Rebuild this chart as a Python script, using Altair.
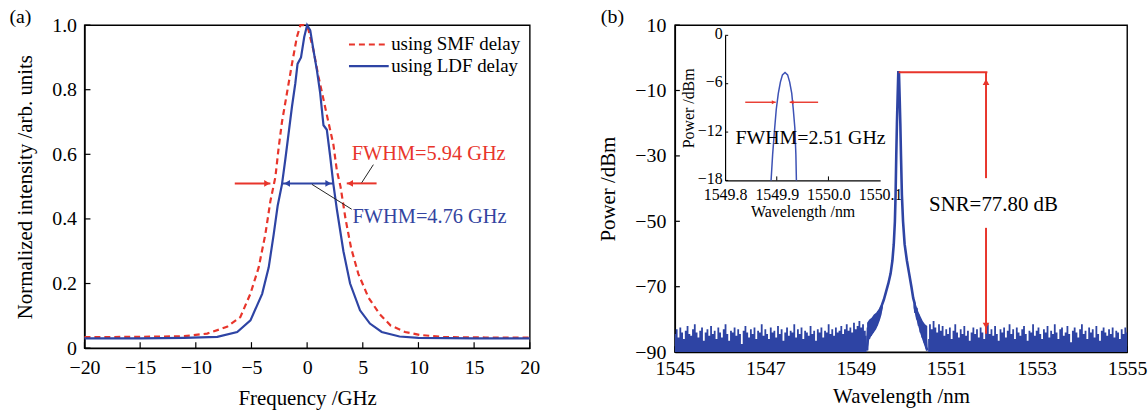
import altair as alt
import pandas as pd

RED = "#e8352b"
BLUE = "#2e44a4"
INSET_BLUE = "#3d52b5"
FONT = "'Liberation Serif', 'Times New Roman', Tinos, 'DejaVu Serif', serif"

# ---------------- Panel (a) data ----------------
smf_freq = [-20, -15, -11.05, -8.98, -7.2, -6.0, -5.1, -4.35, -3.75, -3.3, -2.85, -2.56, -2.26,
            -1.81, -1.36, -0.92, -0.6, -0.3, 0.0, 0.13, 0.57, 1.02, 1.47, 1.91, 2.36, 2.67, 3.0,
            3.45, 3.95, 4.6, 5.5, 6.5, 7.5, 8.8, 10.1, 12.3, 16, 20]
smf_int = [0.034, 0.035, 0.037, 0.045, 0.066, 0.096, 0.168, 0.25, 0.353, 0.455, 0.53, 0.62, 0.70,
           0.79, 0.88, 0.963, 1.0, 1.0, 0.995, 0.984, 0.922, 0.84, 0.77, 0.70, 0.63, 0.55, 0.50,
           0.40, 0.31, 0.23, 0.157, 0.106, 0.07, 0.05, 0.041, 0.034, 0.033, 0.033]

ldf_freq = [-20, -15, -11.05, -8.07, -6.28, -5.09, -4.04, -3.45, -3.0, -2.65, -2.26, -1.96, -1.66,
            -1.36, -1.06, -0.86, -0.55, -0.26, 0.0, 0.28, 0.57, 0.88, 1.17, 1.47, 1.77, 2.07, 2.36,
            2.67, 3.26, 3.86, 4.75, 5.64, 6.7, 8.3, 10.0, 15, 20]
ldf_int = [0.030, 0.030, 0.032, 0.035, 0.05, 0.086, 0.168, 0.25, 0.353, 0.44, 0.507, 0.584, 0.666,
           0.748, 0.82, 0.88, 0.90, 0.963, 1.0, 0.984, 0.922, 0.86, 0.79, 0.69, 0.676, 0.594, 0.507,
           0.43, 0.30, 0.20, 0.117, 0.076, 0.05, 0.036, 0.032, 0.030, 0.030]

freq_ticks = [-20, -15, -10, -5, 0, 5, 10, 15, 20]
int_ticks = [0, 0.2, 0.4, 0.6, 0.8, 1.0]

legend_labels = ["using SMF delay", "using LDF delay"]
legend_y = [0.94, 0.873]
legend_x1 = [3.76, 3.76]
legend_x2 = [7.0, 7.33]
legend_text_x = 7.55

fwhm_y = 0.51
red_arrow_tail = [-6.5, 6.24]
red_arrow_tip = [-3.3, 3.56]
blue_arrow_ends = [-2.26, 2.36]
blue_head_x = [-1.8, 1.9]
red_label = "FWHM=5.94 GHz"
blue_label = "FWHM=4.76 GHz"
red_label_pos = [4.0, 0.6]
blue_label_pos = [4.08, 0.406]
leader_x1 = [5.95, 0.43]
leader_y1 = [0.568, 0.507]
leader_x2 = [4.9, 4.0]
leader_y2 = [0.512, 0.43]

# ---------------- Panel (b) data ----------------
wl_ticks = [1545, 1547, 1549, 1551, 1553, 1555]
dbm_ticks = [10, -10, -30, -50, -70, -90]

noise_step = 0.04
left_noise_start = 1545.0
left_noise = [-84.5, -83.0, -85.5, -82.5, -84.0, -86.0, -83.5, -82.0, -84.5, -85.0,
              -83.0, -81.5, -84.0, -85.5, -83.5, -82.5, -86.5, -84.0, -83.0, -85.0,
              -82.0, -84.5, -83.5, -86.0, -82.5, -84.0, -85.5, -83.0, -81.5, -84.5,
              -86.5, -83.5, -84.0, -82.5, -85.0, -83.0, -84.5, -87.5, -83.5, -82.0,
              -84.0, -85.5, -83.0, -84.5, -82.5, -86.0, -83.5, -84.0, -81.5, -85.0,
              -83.0, -84.5, -86.0, -82.5, -84.0, -83.5, -85.5, -82.0, -84.5, -83.0,
              -86.5, -84.0, -82.5, -85.0, -83.5, -84.0, -81.5, -85.5, -83.0, -84.5,
              -82.5, -86.0, -83.5, -84.0, -85.0, -82.0, -84.5, -83.5, -86.5, -83.0,
              -84.0, -82.5, -85.5, -83.5, -84.0, -81.5, -84.5, -83.0, -85.0, -82.5,
              -84.0, -83.5, -82.0, -84.5, -83.0, -81.5, -83.5, -82.5, -84.0, -81.0,
              -83.0, -82.0, -80.5, -82.5, -81.5, -83.5, -85.0]
right_noise_start = 1550.60
right_noise = [-86.0, -81.5, -83.0, -80.5, -82.5, -84.0, -81.5, -83.5, -82.0, -85.0,
               -83.0, -84.5, -82.5, -86.0, -83.5, -81.5, -84.0, -85.5, -83.0, -84.5,
               -82.0, -85.0, -83.5, -86.5, -84.0, -82.5, -84.5, -83.0, -85.5, -82.5,
               -84.0, -86.0, -83.5, -81.5, -84.5, -83.0, -85.0, -82.0, -84.5, -86.5,
               -83.0, -84.0, -82.5, -85.5, -83.5, -81.5, -84.5, -83.0, -86.0, -82.5,
               -84.0, -85.0, -83.0, -82.0, -84.5, -86.5, -83.5, -84.0, -81.5, -85.0,
               -83.5, -82.5, -84.5, -86.0, -83.0, -84.0, -82.0, -85.5, -83.5, -84.5,
               -81.5, -84.0, -86.0, -83.0, -82.5, -85.0, -84.0, -82.0, -84.5, -87.0,
               -83.5, -82.5, -84.0, -85.5, -83.0, -81.5, -84.5, -83.5, -86.0, -82.5,
               -84.0, -83.0, -85.5, -82.0, -84.5, -86.5, -83.5, -82.5, -84.0, -85.0,
               -83.0, -84.5, -82.5, -85.5, -83.5, -84.0, -86.0, -83.0, -84.5, -82.5,
               -84.0]

skirt_wl = [1549.25, 1549.27, 1549.29, 1549.31, 1549.33, 1549.35, 1549.37, 1549.39, 1549.41,
            1549.43, 1549.45, 1549.47, 1549.49, 1549.51, 1549.53, 1549.55, 1549.58, 1549.62,
            1549.67, 1549.72, 1549.77, 1549.81, 1549.84, 1549.865, 1549.88, 1549.895, 1549.91,
            1549.925, 1549.94, 1549.955, 1549.97, 1549.985, 1550.00, 1550.02, 1550.045, 1550.08,
            1550.13, 1550.18, 1550.23, 1550.27, 1550.30, 1550.32, 1550.34, 1550.36, 1550.38,
            1550.40, 1550.42, 1550.44, 1550.46, 1550.48, 1550.50, 1550.52, 1550.54, 1550.56,
            1550.58]
skirt_dbm = [-89.5, -82.5, -86.0, -81.0, -85.0, -80.5, -84.0, -80.0, -83.0,
             -79.0, -82.0, -78.5, -80.5, -77.5, -79.0, -76.5, -75.5, -74.0,
             -71.5, -69.0, -66.0, -62.0, -57.0, -50.0, -42.0, -30.0, -20.0,
             -12.0, -4.4, -4.4, -12.0, -20.0, -30.0, -42.0, -50.0, -57.0,
             -62.0, -66.0, -70.0, -73.5, -75.0, -78.0, -76.5, -80.0, -78.5,
             -82.0, -80.0, -84.0, -81.5, -85.5, -83.0, -87.0, -84.5, -88.5,
             -89.5]

# noisy band around the base of the skirt (upper / lower envelopes)
band_wl = [1549.25, 1549.30, 1549.35, 1549.40, 1549.45, 1549.50, 1549.55, 1549.60,
           1550.28, 1550.33, 1550.38, 1550.43, 1550.48, 1550.53, 1550.58]
band_top = [-81.0, -80.0, -79.5, -78.5, -78.0, -77.0, -76.0, -74.5,
            -73.5, -75.5, -77.5, -79.0, -80.5, -81.5, -82.0]
band_bottom = [-90.0, -86.0, -85.0, -84.0, -83.0, -81.5, -79.5, -76.5,
               -76.5, -79.5, -82.0, -84.5, -86.5, -88.5, -90.0]
band_side = ["left"] * 8 + ["right"] * 7

peak_line_x = [1549.95, 1551.91]
peak_level = -4.4
snr_x = 1551.88
snr_upper = [-4.4, -36.8]
snr_lower = [-52.0, -84.4]
snr_label = "SNR=77.80 dB"
snr_label_pos = [1550.62, -44.9]

# inset
inset_wl = [1549.889, 1549.892, 1549.896, 1549.899, 1549.903, 1549.907, 1549.911, 1549.916,
            1549.921, 1549.925, 1549.929, 1549.932, 1549.935, 1549.937, 1549.938]
inset_dbm = [-18.0, -14.8, -11.5, -9.2, -7.2, -5.8, -4.9, -4.6, -4.9, -5.8, -7.2, -9.2,
             -11.5, -14.8, -18.0]
inset_wl_ticks = [1549.8, 1549.9, 1550.0, 1550.1]
inset_dbm_ticks = [0, -6, -12, -18]
inset_arrow_tail = [1549.839, 1549.98]
inset_arrow_tip = [1549.898, 1549.925]
inset_arrow_y = -8.3
inset_label = "FWHM=2.51 GHz"
inset_label_pos = [1549.82, -12.8]

WA, HA = 448, 325
WB, HB = 455, 329

# ---------------- Panel (a) ----------------
xA = alt.X("x:Q", scale=alt.Scale(domain=[-20, 20], nice=False, zero=False),
           axis=alt.Axis(values=freq_ticks, format="d", title="Frequency /GHz",
                         labelPadding=10, titlePadding=10))
yA = alt.Y("y:Q", scale=alt.Scale(domain=[0, 1], nice=False, zero=False),
           axis=alt.Axis(values=int_ticks, title="Normalized intensity /arb. units",
                         labelPadding=8, titlePadding=16,
                         labelExpr="datum.value == 0 ? '0' : format(datum.value, '.1f')"))

smf_df = pd.DataFrame({"x": smf_freq, "y": smf_int})
ldf_df = pd.DataFrame({"x": ldf_freq, "y": ldf_int})

a_ticks_x = alt.Chart(pd.DataFrame({"x": freq_ticks})).mark_rule(color="black", strokeWidth=1.2).encode(
    x=xA, y=alt.value(HA), y2=alt.value(HA - 6))
a_ticks_y = alt.Chart(pd.DataFrame({"y": int_ticks})).mark_rule(color="black", strokeWidth=1.2).encode(
    y=yA, x=alt.value(0), x2=alt.value(6))
smf_line = alt.Chart(smf_df).mark_line(color=RED, strokeWidth=2.2, strokeDash=[6, 4]).encode(x=xA, y=yA)
ldf_line = alt.Chart(ldf_df).mark_line(color=BLUE, strokeWidth=2.2).encode(x=xA, y=yA)

leg_red = alt.Chart(pd.DataFrame({"x": [legend_x1[0]], "x2": [legend_x2[0]], "y": [legend_y[0]]})).mark_rule(
    color=RED, strokeWidth=2.2, strokeDash=[6, 4]).encode(x=xA, x2="x2:Q", y=yA)
leg_blue = alt.Chart(pd.DataFrame({"x": [legend_x1[1]], "x2": [legend_x2[1]], "y": [legend_y[1]]})).mark_rule(
    color=BLUE, strokeWidth=2.2).encode(x=xA, x2="x2:Q", y=yA)
leg_text = alt.Chart(pd.DataFrame({"x": [legend_text_x] * 2, "y": legend_y, "t": legend_labels})).mark_text(
    align="left", baseline="middle", font=FONT, fontSize=19, color="black").encode(x=xA, y=yA, text="t:N")

red_arrows = alt.Chart(pd.DataFrame({"x": red_arrow_tail, "x2": red_arrow_tip, "y": [fwhm_y] * 2})).mark_rule(
    color=RED, strokeWidth=2).encode(x=xA, x2="x2:Q", y=yA)
red_heads = alt.Chart(pd.DataFrame({"x": [red_arrow_tip[0] - 0.3, red_arrow_tip[1] + 0.3], "y": [fwhm_y] * 2,
                                    "s": ["triangle-right", "triangle-left"]})).mark_point(
    filled=True, color=RED, size=45, opacity=1).encode(
    x=xA, y=yA, shape=alt.Shape("s:N", scale=None, legend=None))
blue_arrow = alt.Chart(pd.DataFrame({"x": [blue_arrow_ends[0]], "x2": [blue_arrow_ends[1]], "y": [fwhm_y]})).mark_rule(
    color=BLUE, strokeWidth=2).encode(x=xA, x2="x2:Q", y=yA)
blue_heads = alt.Chart(pd.DataFrame({"x": blue_head_x, "y": [fwhm_y] * 2,
                                     "s": ["triangle-left", "triangle-right"]})).mark_point(
    filled=True, color=BLUE, size=45, opacity=1).encode(
    x=xA, y=yA, shape=alt.Shape("s:N", scale=None, legend=None))
leaders = alt.Chart(pd.DataFrame({"x": leader_x1, "y": leader_y1, "x2": leader_x2, "y2": leader_y2})).mark_rule(
    color="#222222", strokeWidth=1).encode(x=xA, y=yA, x2="x2:Q", y2="y2:Q")
red_txt = alt.Chart(pd.DataFrame({"x": [red_label_pos[0]], "y": [red_label_pos[1]], "t": [red_label]})).mark_text(
    align="left", baseline="middle", font=FONT, fontSize=20.5, color=RED).encode(x=xA, y=yA, text="t:N")
blue_txt = alt.Chart(pd.DataFrame({"x": [blue_label_pos[0]], "y": [blue_label_pos[1]], "t": [blue_label]})).mark_text(
    align="left", baseline="middle", font=FONT, fontSize=20.5, color="#3344a0").encode(x=xA, y=yA, text="t:N")
a_tag = alt.Chart(pd.DataFrame({"t": ["(a)"]})).mark_text(
    align="left", baseline="middle", font=FONT, fontSize=20, color="black").encode(
    x=alt.value(-75.5), y=alt.value(-8), text="t:N")

panel_a = alt.layer(a_ticks_x, a_ticks_y, smf_line, ldf_line, leg_red, leg_blue, leg_text,
                    red_arrows, red_heads, blue_arrow, blue_heads, leaders, red_txt, blue_txt,
                    a_tag).properties(width=WA, height=HA)

# ---------------- Panel (b) ----------------
xB = alt.X("x:Q", scale=alt.Scale(domain=[1545, 1555], nice=False, zero=False),
           axis=alt.Axis(values=wl_ticks, format="d", title="Wavelength /nm",
                         labelPadding=7, titlePadding=7))
yB = alt.Y("y:Q", scale=alt.Scale(domain=[-90, 10], nice=False, zero=False),
           axis=alt.Axis(values=dbm_ticks, title="Power /dBm", labelPadding=9, titlePadding=16))

noise_rows = []
for i, v in enumerate(left_noise):
    noise_rows.append({"x": left_noise_start + i * noise_step, "y": v, "seg": "left"})
for i, v in enumerate(right_noise):
    noise_rows.append({"x": right_noise_start + i * noise_step, "y": v, "seg": "right"})
noise_df = pd.DataFrame(noise_rows)

b_ticks_x = alt.Chart(pd.DataFrame({"x": wl_ticks})).mark_rule(color="black", strokeWidth=1.2).encode(
    x=xB, y=alt.value(HB), y2=alt.value(HB - 6))
b_ticks_y = alt.Chart(pd.DataFrame({"y": dbm_ticks})).mark_rule(color="black", strokeWidth=1.2).encode(
    y=yB, x=alt.value(0), x2=alt.value(5))
noise = alt.Chart(noise_df).mark_area(color=BLUE, opacity=1, interpolate="step").encode(
    x=xB, y=yB, y2=alt.datum(-90), detail="seg:N")
band = alt.Chart(pd.DataFrame({"x": band_wl, "y": band_top, "y2": band_bottom, "seg": band_side})).mark_area(
    color=BLUE, opacity=1).encode(x=xB, y=yB, y2="y2:Q", detail="seg:N")
skirt = alt.Chart(pd.DataFrame({"x": skirt_wl, "y": skirt_dbm})).mark_line(
    color=BLUE, strokeWidth=2.6).encode(x=xB, y=yB)
peak_line = alt.Chart(pd.DataFrame({"x": [peak_line_x[0]], "x2": [peak_line_x[1]], "y": [peak_level]})).mark_rule(
    color=RED, strokeWidth=2).encode(x=xB, x2="x2:Q", y=yB)
snr_lines = alt.Chart(pd.DataFrame({"x": [snr_x] * 2, "y": [snr_upper[0], snr_lower[0]],
                                    "y2": [snr_upper[1], snr_lower[1]]})).mark_rule(
    color=RED, strokeWidth=2).encode(x=xB, y=yB, y2="y2:Q")
snr_heads = alt.Chart(pd.DataFrame({"x": [snr_x] * 2, "y": [snr_upper[0] - 3.0, snr_lower[1] + 2.5],
                                    "s": ["triangle-up", "triangle-down"]})).mark_point(
    filled=True, color=RED, size=45, opacity=1).encode(
    x=xB, y=yB, shape=alt.Shape("s:N", scale=None, legend=None))
snr_txt = alt.Chart(pd.DataFrame({"x": [snr_label_pos[0]], "y": [snr_label_pos[1]], "t": [snr_label]})).mark_text(
    align="left", baseline="middle", font=FONT, fontSize=21, color="black").encode(x=xB, y=yB, text="t:N")
b_tag = alt.Chart(pd.DataFrame({"t": ["(b)"]})).mark_text(
    align="left", baseline="middle", font=FONT, fontSize=20, color="black").encode(
    x=alt.value(-74.5), y=alt.value(-8), text="t:N")

main_b = alt.layer(b_ticks_x, b_ticks_y, noise, band, skirt, peak_line, snr_lines, snr_heads,
                   snr_txt, b_tag)

# inset with its own scales placed inside panel (b)
xI = alt.X("x:Q", scale=alt.Scale(domain=[1549.8, 1550.1], range=[50.5, 206.5], nice=False, zero=False),
           axis=alt.Axis(orient="bottom", offset=-172.7, values=inset_wl_ticks, format=".1f",
                         title="Wavelength /nm", labelFontSize=16, titleFontSize=16,
                         labelPadding=6, titlePadding=1, labelOverlap=False, labelFlush=False,
                         domainWidth=1.2))
yI = alt.Y("y:Q", scale=alt.Scale(domain=[-18, 0], range=[156.3, 10.3], nice=False, zero=False),
           axis=alt.Axis(orient="left", offset=-50.5, values=inset_dbm_ticks, format="d",
                         title="Power /dBm", labelFontSize=16, titleFontSize=16,
                         labelPadding=3, titlePadding=1, labelOverlap=False, labelFlush=False,
                         labelBaseline="bottom", labelOffset=6, domainWidth=1.2))

i_ticks_x = alt.Chart(pd.DataFrame({"x": inset_wl_ticks[1:3], "y": [-18, -18], "y2": [-17.5, -17.5]})).mark_rule(
    color="black", strokeWidth=1).encode(x=xI, y=yI, y2="y2:Q")
i_ticks_y = alt.Chart(pd.DataFrame({"y": inset_dbm_ticks, "x": [1549.8] * 4, "x2": [1549.806] * 4})).mark_rule(
    color="black", strokeWidth=1).encode(x=xI, x2="x2:Q", y=yI)
i_curve = alt.Chart(pd.DataFrame({"x": inset_wl, "y": inset_dbm})).mark_line(
    color=INSET_BLUE, strokeWidth=1.5).encode(x=xI, y=yI)
i_arrows = alt.Chart(pd.DataFrame({"x": inset_arrow_tail, "x2": inset_arrow_tip, "y": [inset_arrow_y] * 2})).mark_rule(
    color=RED, strokeWidth=1.4).encode(x=xI, x2="x2:Q", y=yI)
i_heads = alt.Chart(pd.DataFrame({"x": [inset_arrow_tip[0] - 0.004, inset_arrow_tip[1] + 0.004],
                                  "y": [inset_arrow_y] * 2, "s": ["triangle-right", "triangle-left"]})).mark_point(
    filled=True, color=RED, size=18, opacity=1).encode(
    x=xI, y=yI, shape=alt.Shape("s:N", scale=None, legend=None))
i_txt = alt.Chart(pd.DataFrame({"x": [inset_label_pos[0]], "y": [inset_label_pos[1]], "t": [inset_label]})).mark_text(
    align="left", baseline="middle", font=FONT, fontSize=20, color="black").encode(x=xI, y=yI, text="t:N")

inset_b = alt.layer(i_ticks_x, i_ticks_y, i_curve, i_arrows, i_heads, i_txt)

panel_b = alt.layer(main_b, inset_b).resolve_scale(x="independent", y="independent").properties(
    width=WB, height=HB)

chart = alt.hconcat(panel_a, panel_b, spacing=57).properties(
    padding={"left": 8, "top": 5, "right": 0, "bottom": 0}
).configure_view(stroke="black", strokeWidth=1.4).configure_axis(
    labelFont=FONT, labelFontSize=20, labelColor="black", labelFlush=False,
    titleFont=FONT, titleFontSize=21, titleFontWeight="normal", titleColor="black",
    domainColor="black", domainWidth=1.4, grid=False, ticks=False
).configure_concat(spacing=57)

chart.save("out.html", embed_options={"renderer": "svg", "actions": False})
